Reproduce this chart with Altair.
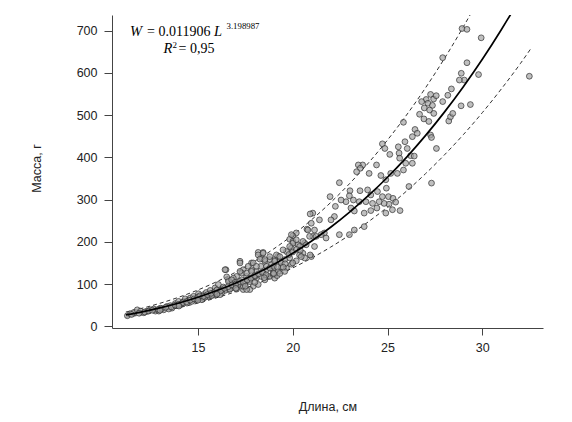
import altair as alt
import pandas as pd

length = [
    28.93, 29.19, 29.94, 27.91, 29.19, 28.89, 29.05, 28.79, 29.80, 32.48,
    28.37, 28.18, 27.91, 28.88, 29.37, 27.27, 27.43, 27.57, 27.04, 26.80,
    27.13, 27.37, 26.94, 27.22, 27.44, 26.92, 27.18, 26.69, 28.23, 28.32,
    28.44, 25.84, 26.45, 26.57, 26.31, 27.27, 27.32, 27.58, 27.32, 25.66,
    26.13, 24.73, 24.86, 25.12, 25.57, 25.61, 25.92, 26.04, 26.22, 26.41,
    26.31, 25.96, 25.64, 25.84, 25.52, 25.17, 24.91, 24.65, 24.42, 24.03,
    23.69, 23.46, 23.56, 23.37, 22.46, 23.02, 23.55, 23.95, 24.12, 24.47,
    24.73, 24.94, 25.05, 25.29, 25.43, 25.08, 24.82, 24.56, 24.21, 23.86,
    23.51, 23.20, 22.99, 22.81, 22.55, 21.97, 22.25, 23.07, 23.25, 23.77,
    24.12, 24.44, 24.91, 25.26, 22.20, 22.02, 21.41, 21.06, 20.98, 20.75,
    21.15, 21.67, 22.46, 22.99, 23.25, 23.77,
    20.19, 20.01, 19.84, 20.01, 20.28, 19.93, 19.67, 19.49, 19.23, 19.05,
    19.14, 19.32, 19.58, 19.84, 19.93, 20.19, 19.67, 19.40, 19.23, 18.97,
    18.88, 18.79, 18.53, 18.35, 18.18, 18.44, 18.32, 18.62, 18.44, 18.09,
    17.83, 17.83, 17.65, 17.39, 17.22, 17.31, 17.04, 16.87, 16.61, 16.48,
    17.57, 17.22, 16.96, 16.78, 16.61, 16.43, 16.26, 16.08, 15.91, 15.73,
    15.56, 15.30, 15.03, 17.74, 18.09, 18.35, 18.62, 17.48, 17.92, 18.18,
    18.53, 18.79, 18.97, 19.05, 19.18, 19.32, 19.58, 17.04, 17.39, 17.74,
    11.28, 11.45, 11.63, 11.80, 11.97, 12.32, 12.50, 12.67, 12.76, 13.02,
    13.20, 13.37, 13.55, 13.63, 13.81, 13.98, 14.07, 14.25, 14.33, 14.51,
    14.60, 14.77, 14.86, 15.03, 15.12, 15.30, 15.44, 15.56, 15.65, 15.82,
    15.91, 16.08, 16.26, 16.43, 16.52, 16.61, 16.78, 16.96, 17.04, 17.22,
    17.22, 17.39, 17.57, 17.57, 18.18, 18.44, 18.27, 18.53, 17.92, 18.01,
    18.97, 19.05, 19.32, 19.93, 20.01, 20.19, 19.84, 20.36, 20.54, 20.80,
    20.92, 21.06, 20.98, 20.36, 20.63,
    12.15, 12.94, 13.46, 13.90, 14.16, 14.42, 14.68, 14.95, 15.21, 15.38,
    15.73, 15.99, 16.17, 16.34, 16.69, 16.87, 17.13, 17.31, 17.74, 17.83,
    18.09, 18.62, 18.79,
    20.54, 20.71, 21.15, 20.92, 20.63, 20.45, 21.24, 21.50, 21.76, 20.89,
    11.5, 11.9, 12.2, 12.4, 12.6, 12.9, 13.1, 13.3, 13.6, 13.8,
    14.0, 14.2, 14.4, 14.6, 14.8, 15.0, 15.1, 15.3, 15.5, 15.7,
    15.9, 16.0, 16.2, 16.4, 16.6, 16.8, 17.0, 17.2, 17.4, 17.6,
    17.8, 18.0, 18.2, 18.4, 18.6, 18.8, 19.0, 19.2, 19.4, 19.6,
    19.8, 20.0, 20.2, 20.4,
    13.0, 14.0, 15.0, 16.0, 17.0, 17.5, 18.0, 18.5, 19.0, 19.5, 20.0,
]
mass = [
    705, 703, 683, 636, 624, 599, 583, 583, 596, 592,
    562, 547, 532, 522, 525, 549, 538, 546, 537, 532,
    528, 523, 517, 512, 504, 491, 485, 502, 486, 496,
    504, 483, 466, 457, 449, 453, 447, 421, 339, 274,
    331, 432, 421, 407, 425, 410, 437, 421, 404, 403,
    386, 386, 398, 370, 362, 362, 347, 357, 382, 362,
    382, 382, 374, 366, 340, 321, 321, 323, 311, 319,
    307, 327, 307, 303, 294, 289, 291, 295, 291, 295,
    295, 299, 309, 295, 299, 307, 284, 280, 273, 268,
    274, 280, 268, 276, 260, 252, 252, 268, 244, 230,
    228, 221, 217, 217, 228, 236,
    221, 214, 206, 201, 193, 185, 177, 181, 166, 158,
    169, 154, 158, 162, 147, 155, 138, 140, 130, 134,
    147, 158, 154, 162, 175, 175, 142, 134, 126, 130,
    134, 150, 142, 134, 154, 126, 118, 114, 110, 134,
    118, 103, 99, 91, 87, 85, 80, 79, 75, 73,
    71, 67, 67, 110, 114, 118, 118, 99, 95, 99,
    110, 118, 122, 114, 120, 125, 130, 91, 87, 87,
    25, 30, 33, 39, 36, 36, 39, 41, 36, 43,
    39, 47, 49, 43, 54, 59, 51, 59, 65, 62,
    67, 71, 63, 77, 69, 75, 80, 71, 85, 79,
    91, 99, 87, 134, 117, 106, 110, 104, 88, 150,
    130, 95, 126, 87, 169, 173, 159, 158, 150, 118,
    126, 154, 165, 217, 197, 205, 189, 189, 173, 228,
    266, 213, 165, 169, 197,
    32, 36, 41, 49, 54, 55, 59, 65, 63, 69,
    73, 79, 75, 93, 88, 96, 99, 110, 106, 130,
    142, 142, 165,
    201, 193, 189, 169, 162, 165, 213, 217, 209, 213,
    28, 31, 34, 36, 38, 40, 42, 45, 46, 50,
    52, 56, 58, 62, 65, 69, 72, 71, 75, 78,
    82, 86, 84, 90, 94, 98, 100, 106, 104, 110,
    114, 120, 124, 128, 122, 138, 142, 140, 150, 148,
    170, 176, 182, 180,
    38, 48, 62, 76, 90, 95, 104, 115, 125, 140, 150,
]

# fitted curve W = 0.011906 L^3.198987 and its dashed band
curve_length = [11.2, 12, 13, 14, 15, 16, 17, 18, 19, 20, 21, 22, 23, 24, 25,
                26, 27, 28, 29, 30, 31, 32, 32.6]
curve_fit = [27.0, 33.7, 43.6, 55.2, 68.8, 84.6, 102.7, 123.4, 146.6, 172.8,
             202.0, 234.4, 270.3, 309.7, 352.9, 400.0, 451.4, 507.1, 567.3,
             632.2, 702.2, 777.0, 825.0]
curve_upper = [33.8, 42.1, 54.5, 69.0, 86.0, 105.8, 128.4, 154.3, 183.3, 216.0,
               252.5, 293.0, 337.9, 387.1, 441.1, 500.0, 564.3, 633.9, 709.1,
               790.3, 877.8, 971.0, 1031.0]
curve_lower = [21.6, 27.0, 34.9, 44.2, 55.0, 67.7, 82.2, 98.7, 117.3, 138.2,
               161.6, 187.5, 216.2, 247.8, 282.3, 320.0, 361.1, 405.7, 453.8,
               505.8, 561.8, 621.6, 660.0]

x_ticks = [15, 20, 25, 30]
y_ticks = [0, 100, 200, 300, 400, 500, 600, 700]

pts = pd.DataFrame({"L": length, "W": mass})
cur = pd.DataFrame({"L": curve_length, "fit": curve_fit,
                    "up": curve_upper, "lo": curve_lower})

xs = alt.Scale(domain=[10.47, 33.2], nice=False, zero=False)
ys = alt.Scale(domain=[-4, 737], nice=False, zero=False)

x_axis = alt.Axis(values=x_ticks, title="Длина, см", grid=False,
                  tickSize=7, labelPadding=6, titleY=82,
                  titleBaseline="alphabetic", labelFontSize=12.5,
                  titleFontSize=12.5, titleFontWeight="normal")
y_axis = alt.Axis(values=y_ticks, title="Масса, г", grid=False,
                  tickSize=8, labelPadding=7, titleX=-72, titleY=153,
                  titleAngle=-90, titleBaseline="alphabetic",
                  labelFontSize=12.5, titleFontSize=12.5,
                  titleFontWeight="normal")

points = alt.Chart(pts).mark_circle(
    size=34, fill="#a4a4a4", fillOpacity=0.7, stroke="#2a2a2a",
    strokeOpacity=0.75, strokeWidth=0.9, clip=True
).encode(
    x=alt.X("L:Q", scale=xs, axis=x_axis),
    y=alt.Y("W:Q", scale=ys, axis=y_axis),
)

fit = alt.Chart(cur).mark_line(color="black", strokeWidth=1.7, clip=True,
                               interpolate="monotone").encode(
    x=alt.X("L:Q", scale=xs), y=alt.Y("fit:Q", scale=ys))
up = alt.Chart(cur).mark_line(color="#333333", strokeWidth=1, clip=True,
                              strokeDash=[4, 3], interpolate="monotone").encode(
    x=alt.X("L:Q", scale=xs), y=alt.Y("up:Q", scale=ys))
lo = alt.Chart(cur).mark_line(color="#333333", strokeWidth=1, clip=True,
                              strokeDash=[4, 3], interpolate="monotone").encode(
    x=alt.X("L:Q", scale=xs), y=alt.Y("lo:Q", scale=ys))

one = pd.DataFrame({"k": [0]})
serif = "Liberation Serif"


def txt(s, x, y, size, style="normal"):
    return alt.Chart(one).mark_text(
        text=s, font=serif, fontSize=size, fontStyle=style, align="left",
        baseline="alphabetic", color="black"
    ).encode(x=alt.value(x), y=alt.value(y))


labels = [
    txt("W", 18, 21, 14.5, "italic"),
    txt("= 0.011906", 35, 21, 14),
    txt("L", 102, 21, 14.5, "italic"),
    txt("3.198987", 114.5, 14, 8.8),
    txt("R", 51.6, 38.3, 14.5, "italic"),
    txt("2", 60.5, 32.7, 9),
    txt("= 0,95", 66.5, 38.3, 14),
]

chart = alt.layer(lo, up, points, fit, *labels).properties(
    width=431, height=313,
    autosize=alt.AutoSizeParams(type="none"),
    padding={"left": 104, "top": 7, "right": 21, "bottom": 86},
).configure_view(stroke=None).configure_axis(
    domainColor="#444444", tickColor="#444444", labelColor="#222222",
    titleColor="#222222", labelFont="Liberation Sans",
    titleFont="Liberation Sans", domainWidth=1, tickWidth=1,
)

chart.save("out.html", embed_options={"renderer": "svg", "actions": False})
